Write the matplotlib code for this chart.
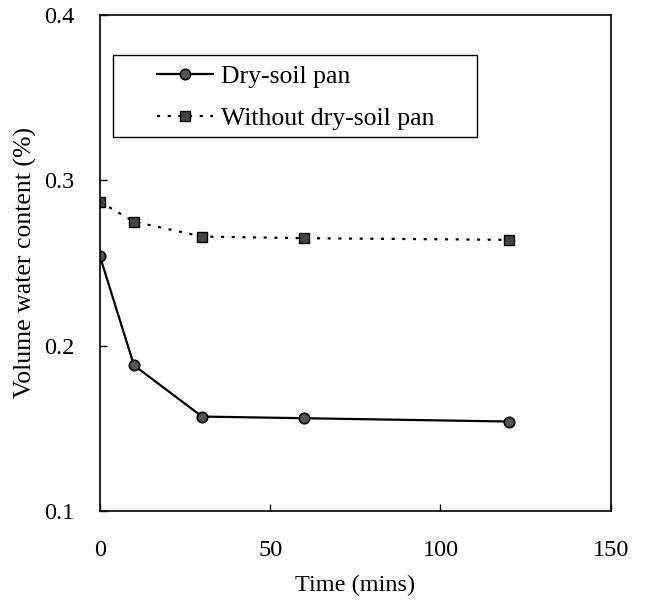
import matplotlib
matplotlib.use('Agg')
from matplotlib import pyplot as plt
from matplotlib.patches import Rectangle

# time points (mins) and volume water content
time_mins = [0, 10, 30, 60, 120]
dry_soil_pan = [0.254, 0.188, 0.157, 0.156, 0.154]
without_pan = [0.287, 0.275, 0.266, 0.265, 0.264]

plt.rcParams['font.family'] = ['Liberation Serif', 'DejaVu Serif']

fig = plt.figure(figsize=(6.49, 6.08), dpi=100)
ax = fig.add_axes([0.154, 0.160, 0.787, 0.815])

ax.plot(time_mins, dry_soil_pan, '-', color='black', lw=1.6,
        marker='o', ms=7.5, mfc='#555555', mec='black', mew=1.2,
        label='Dry-soil pan')
ax.plot(time_mins, without_pan, color='black', lw=1.6, ls=(0, (1.4, 3.4)),
        marker='s', ms=7.5, mfc='#444444', mec='black', mew=1.0,
        label='Without dry-soil pan')

ax.set_xlim(0, 150)
ax.set_ylim(0.1, 0.4)
ax.set_xticks([0, 50, 100, 150])
ax.set_yticks([0.1, 0.2, 0.3, 0.4])
ax.set_yticklabels(['0.1', '0.2', '0.3', '0.4'])
ax.tick_params(direction='in', length=5, width=1, labelsize=17.5)
ax.tick_params(axis='x', pad=21)
ax.tick_params(axis='y', pad=18.5)
for s in ax.spines.values():
    s.set_linewidth(1.2)

ax.set_xlabel('Time (mins)', fontsize=17.5, labelpad=10)
ax.set_ylabel('Volume water content (%)', fontsize=18.5, labelpad=5)

# legend box drawn separately, entries inside it
ax.add_patch(Rectangle((0.0254, 0.754), 0.712, 0.165, transform=ax.transAxes,
                       fill=False, edgecolor='black', lw=1.0, zorder=5))
leg = ax.legend(loc='upper left', bbox_to_anchor=(0.1115, 0.899), borderaxespad=0,
                borderpad=0, fontsize=18.5, numpoints=1, handlelength=2.2,
                handletextpad=0.3, labelspacing=0.75, frameon=False)

fig.savefig('out.png', dpi=100)
